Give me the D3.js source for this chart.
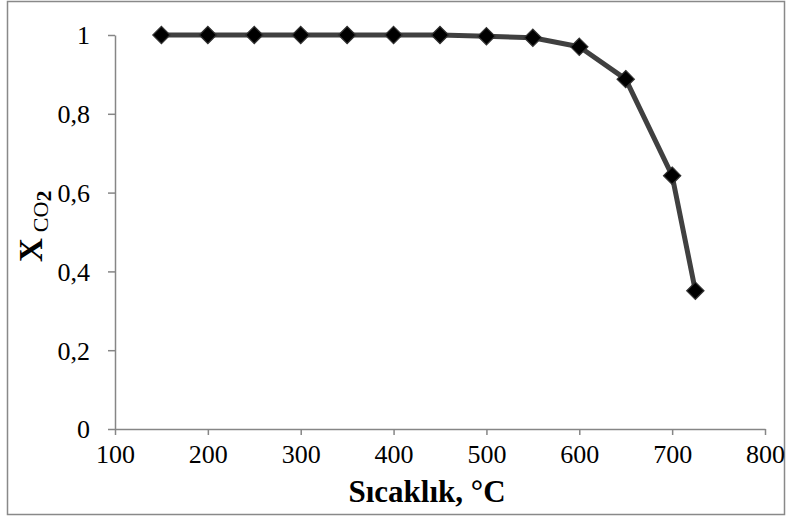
<html>
<head>
  <script type="text/javascript" src="https://cdn.jsdelivr.net/npm/d3@7"></script>
  <style>
  body { margin: 0; background: #fff; }
  </style>
</head>
<body>

<script type="text/javascript">
// temperature (°C) vs CO2 conversion
var temps = [150, 200, 250, 300, 350, 400, 450, 500, 550, 600, 650, 700, 725];
var xco2 = [1, 1, 1, 1, 1, 1, 1, 0.997, 0.993, 0.970, 0.888, 0.643, 0.351];
var xTicks = [100, 200, 300, 400, 500, 600, 700, 800];
var yTicks = [0, 0.2, 0.4, 0.6, 0.8, 1];

var SERIF = "font-family:'Liberation Serif','Times New Roman',serif;";

var W = 792, H = 517;
var svg = d3.select("body").append("svg")
  .attr("width", W)
  .attr("height", H);

// outer frame
svg.append("rect")
  .attr("x", 7.5).attr("y", 1.5)
  .attr("width", 777).attr("height", 513)
  .attr("fill", "#fff")
  .attr("stroke", "#898989")
  .attr("stroke-width", 1.5);

var x = d3.scaleLinear().domain([100, 800]).range([115, 765]);
var y = d3.scaleLinear().domain([0, 1]).range([429, 35]);

function fmt(v) {
  return String(v).replace(".", ",");
}

var xAxis = svg.append("g")
  .attr("transform", "translate(0," + y(0) + ")")
  .call(d3.axisBottom(x).tickValues(xTicks).tickSize(6).tickSizeOuter(0).tickPadding(10));

var yAxis = svg.append("g")
  .attr("transform", "translate(" + x(100) + ",0)")
  .call(d3.axisLeft(y).tickValues(yTicks).tickFormat(fmt).tickSize(7).tickSizeOuter(0).tickPadding(18));

[xAxis, yAxis].forEach(function(a) {
  a.attr("font-family", null);
  a.select(".domain").attr("stroke", "#868686").attr("stroke-width", 1.5);
  a.selectAll(".tick line").attr("stroke", "#868686").attr("stroke-width", 1.5);
  a.selectAll(".tick text")
    .attr("style", SERIF + "font-size:26px;fill:#000;");
});
yAxis.selectAll(".tick text").attr("dy", "0.34em");

var pts = temps.map(function(t, i) { return [t, xco2[i]]; });

var line = d3.line()
  .x(function(d) { return x(d[0]); })
  .y(function(d) { return y(d[1]); });

svg.append("path")
  .datum(pts)
  .attr("d", line)
  .attr("fill", "none")
  .attr("stroke", "#404040")
  .attr("stroke-width", 5)
  .attr("stroke-linejoin", "round");

svg.selectAll("path.mark")
  .data(pts)
  .enter().append("path")
  .attr("class", "mark")
  .attr("d", d3.symbol().type(d3.symbolDiamond2).size(190))
  .attr("transform", function(d) { return "translate(" + x(d[0]) + "," + y(d[1]) + ")"; })
  .attr("fill", "#000")
  .attr("stroke", "#333")
  .attr("stroke-width", 1.2);

// axis titles
svg.append("text")
  .attr("x", 427)
  .attr("y", 502)
  .attr("text-anchor", "middle")
  .attr("style", SERIF + "font-size:31px;font-weight:bold;fill:#000;")
  .text("Sıcaklık, °C");

var yt = svg.append("text")
  .attr("transform", "translate(42,262) rotate(-90)")
  .attr("text-anchor", "start")
  .attr("style", SERIF + "fill:#000;");
yt.append("tspan")
  .attr("style", "font-size:33px;font-weight:bold;")
  .text("X");
yt.append("tspan")
  .attr("style", "font-size:22px;")
  .attr("dx", 6)
  .attr("dy", 6)
  .text("CO");
yt.append("tspan")
  .attr("style", "font-size:22px;font-weight:bold;")
  .attr("dy", 3)
  .text("2");
</script>

</body>
</html>
